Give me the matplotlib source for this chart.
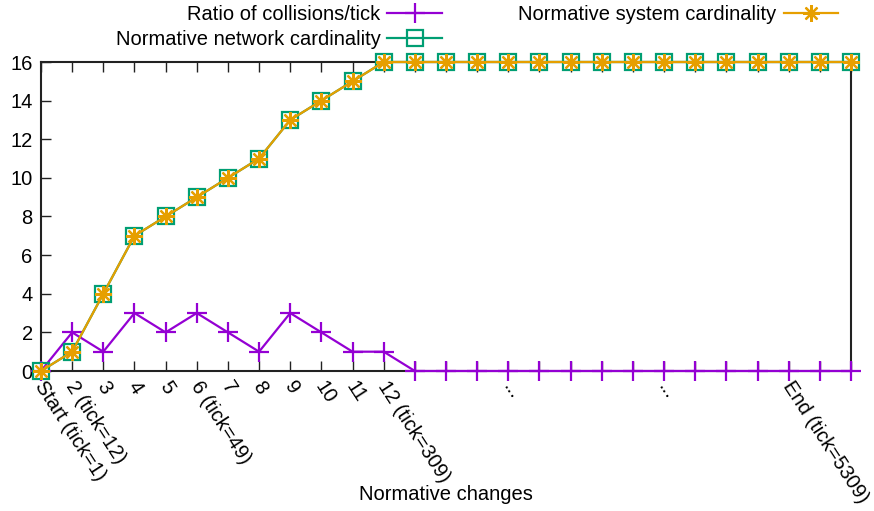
import matplotlib
matplotlib.use("Agg")
import matplotlib.pyplot as plt
from matplotlib.lines import Line2D

plt.rcParams['font.family'] = ['Liberation Sans', 'DejaVu Sans']

# ---- data ----
xtick_labels = ["Start (tick=1)", "2 (tick=12)", "3", "4", "5", "6 (tick=49)", "7", "8",
                "9", "10", "11", "12 (tick=309)", "", "", "", "...", "", "", "", "",
                "...", "", "", "", "End (tick=5309)", "", ""]
collisions = [0, 2, 1, 3, 2, 3, 2, 1, 3, 2, 1, 1, 0, 0, 0, 0, 0, 0, 0, 0, 0, 0, 0, 0, 0, 0, 0]
network_card = [0, 1, 4, 7, 8, 9, 10, 11, 13, 14, 15, 16, 16, 16, 16, 16, 16, 16, 16, 16,
                16, 16, 16, 16, 16, 16, 16]
system_card = [0, 1, 4, 7, 8, 9, 10, 11, 13, 14, 15, 16, 16, 16, 16, 16, 16, 16, 16, 16,
               16, 16, 16, 16, 16, 16, 16]
yticks = [0, 2, 4, 6, 8, 10, 12, 14, 16]

PURPLE = "#9400D3"
GREEN = "#009E73"
ORANGE = "#E69F00"
FS = 14.5

fig = plt.figure(figsize=(8.74, 5.11), dpi=100)
ax = fig.add_axes([41/874, 140/511, 810/874, 309/511])
x = list(range(len(xtick_labels)))

l1, = ax.plot(x, collisions, color=PURPLE, lw=1.6, marker='+', ms=14, mew=1.6,
              clip_on=False, zorder=3, label="Ratio of collisions/tick")
l2, = ax.plot(x, network_card, color=GREEN, lw=1.6, marker='s', ms=12, mew=1.6,
              mfc='none', clip_on=False, zorder=4, label="Normative network cardinality")
l3, = ax.plot(x, system_card, color=ORANGE, lw=1.6, marker=(8, 2, 0), ms=12, mew=1.6,
              clip_on=False, zorder=5, label="Normative system cardinality")

ax.set_xlim(0, len(x) - 1)
ax.set_ylim(0, 16)
ax.set_yticks(yticks)
ax.set_yticklabels([str(v) for v in yticks], fontsize=FS)
ax.set_xticks(x)
ax.set_xticklabels([])
ax.tick_params(axis='x', direction='in', length=7, width=1, top=True, bottom=True,
               color='#222222')
ax.tick_params(axis='y', direction='in', length=7, width=1, left=True, right=False,
               color='#222222', pad=6)
for s in ax.spines.values():
    s.set_linewidth(1.5)
    s.set_color('#222222')
    s.set_zorder(2)

for xi, lab in zip(x, xtick_labels):
    if lab:
        ax.annotate(lab, xy=(xi, 0), xycoords=('data', 'axes fraction'),
                    xytext=(-2, -12), textcoords='offset pixels',
                    rotation=-57, rotation_mode='anchor', ha='left', va='center',
                    fontsize=FS, annotation_clip=False)

fig.text(446/874, 1 - 494/511, "Normative changes", ha='center', va='center', fontsize=FS)

fig.legend(handles=[l1, l2, l3], labels=[l.get_label() for l in (l1, l2, l3)],
           ncol=2, loc='upper right', bbox_to_anchor=(838/874, 1 - 5/511),
           markerfirst=False, frameon=False, fontsize=FS, handlelength=2.7,
           handletextpad=0.35, columnspacing=3.8, labelspacing=0.3, borderpad=0.0,
           borderaxespad=0.0)

fig.savefig("out.png", dpi=100)
